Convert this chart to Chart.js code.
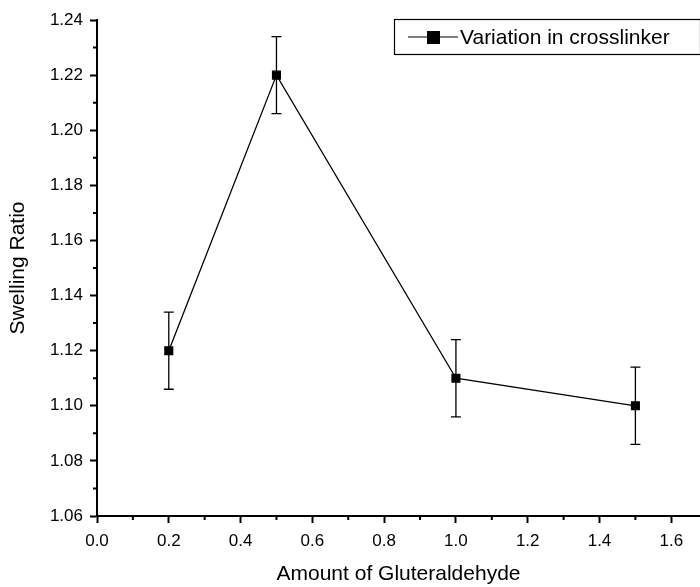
<!DOCTYPE html>
<html>
<head>
<meta charset="utf-8">
<script src="https://cdn.jsdelivr.net/npm/chart.js@4.4.0/dist/chart.umd.min.js"></script>
<style>
  html, body { margin: 0; padding: 0; background: #fff; }
  #wrap { width: 700px; height: 587px; }
</style>
</head>
<body>
<div id="wrap"><canvas id="graphique"></canvas></div>
<script>
// données
const glutaraldehyde = [0.2, 0.5, 1.0, 1.5];
const swellingRatio = [1.12, 1.22, 1.11, 1.10];
const erreurs = [0.014, 0.014, 0.014, 0.014];
const serieLabel = 'Variation in crosslinker';

const police = 'Arial, "Liberation Sans", sans-serif';

// barres d'erreur + petites graduations + légende encadrée
const extras = {
  id: 'extras',
  afterDatasetsDraw(chart) {
    const ctx = chart.ctx;
    const x = chart.scales.x, y = chart.scales.y;
    ctx.save();
    ctx.strokeStyle = '#000';
    ctx.lineWidth = 1.3;
    glutaraldehyde.forEach((g, i) => {
      const px = x.getPixelForValue(g);
      const top = y.getPixelForValue(swellingRatio[i] + erreurs[i]);
      const bot = y.getPixelForValue(swellingRatio[i] - erreurs[i]);
      ctx.beginPath();
      ctx.moveTo(px, top); ctx.lineTo(px, bot);
      ctx.moveTo(px - 5, top); ctx.lineTo(px + 5, top);
      ctx.moveTo(px - 5, bot); ctx.lineTo(px + 5, bot);
      ctx.stroke();
    });
    ctx.restore();
  },
  afterDraw(chart) {
    const ctx = chart.ctx;
    const x = chart.scales.x, y = chart.scales.y;
    const area = chart.chartArea;
    ctx.save();
    ctx.strokeStyle = '#000';
    ctx.lineWidth = 2;
    // petites graduations
    ctx.beginPath();
    for (let v = 0.1; v < x.max; v += 0.2) {
      const px = x.getPixelForValue(v);
      ctx.moveTo(px, area.bottom); ctx.lineTo(px, area.bottom + 4);
    }
    for (let v = 1.07; v < y.max; v += 0.02) {
      const py = y.getPixelForValue(v);
      ctx.moveTo(area.left, py); ctx.lineTo(area.left - 4, py);
    }
    ctx.stroke();

    // légende
    ctx.lineWidth = 1.2;
    ctx.strokeRect(394.5, 19.5, 306, 35);
    ctx.beginPath();
    ctx.moveTo(408, 37); ctx.lineTo(458, 37);
    ctx.stroke();
    ctx.fillStyle = '#000';
    ctx.fillRect(427, 31, 13, 13);
    ctx.font = '21px ' + police;
    ctx.textBaseline = 'middle';
    ctx.fillText(serieLabel, 460, 38);
    ctx.restore();
  }
};

new Chart(document.getElementById('graphique'), {
  type: 'scatter',
  data: {
    datasets: [{
      label: serieLabel,
      data: glutaraldehyde.map((g, i) => ({ x: g, y: swellingRatio[i] })),
      showLine: true,
      borderColor: '#000',
      borderWidth: 1.3,
      backgroundColor: '#000',
      pointStyle: 'rect',
      pointRadius: 5.5,
      pointHoverRadius: 5.5
    }]
  },
  options: {
    responsive: true,
    maintainAspectRatio: false,
    animation: false,
    layout: { autoPadding: false, padding: { top: 20, right: 0, left: 0, bottom: 0 } },
    plugins: {
      legend: { display: false },
      tooltip: { enabled: false }
    },
    scales: {
      x: {
        type: 'linear',
        min: 0,
        max: 1.68,
        ticks: {
          stepSize: 0.2,
          includeBounds: false,
          color: '#000',
          font: { size: 17, family: police },
          padding: 8,
          maxRotation: 0,
          callback: v => v.toFixed(1)
        },
        grid: { drawOnChartArea: false, color: '#000', tickLength: 7, tickWidth: 2 },
        border: { color: '#000', width: 2 },
        title: {
          display: true,
          text: 'Amount of Gluteraldehyde',
          color: '#000',
          font: { size: 21, family: police },
          padding: { top: 0, bottom: 0 }
        },
        afterFit(scale) {
          scale.height = 71;
        }
      },
      y: {
        min: 1.06,
        max: 1.24,
        ticks: {
          stepSize: 0.02,
          color: '#000',
          font: { size: 17, family: police },
          padding: 7,
          callback: v => v.toFixed(2)
        },
        grid: { drawOnChartArea: false, color: '#000', tickLength: 7, tickWidth: 2 },
        border: { color: '#000', width: 2 },
        title: {
          display: true,
          text: 'Swelling Ratio',
          color: '#000',
          font: { size: 21, family: police },
          padding: { top: 6, bottom: 0 }
        },
        afterFit(scale) { scale.width = 97; }
      }
    }
  },
  plugins: [extras]
});
</script>
</body>
</html>
